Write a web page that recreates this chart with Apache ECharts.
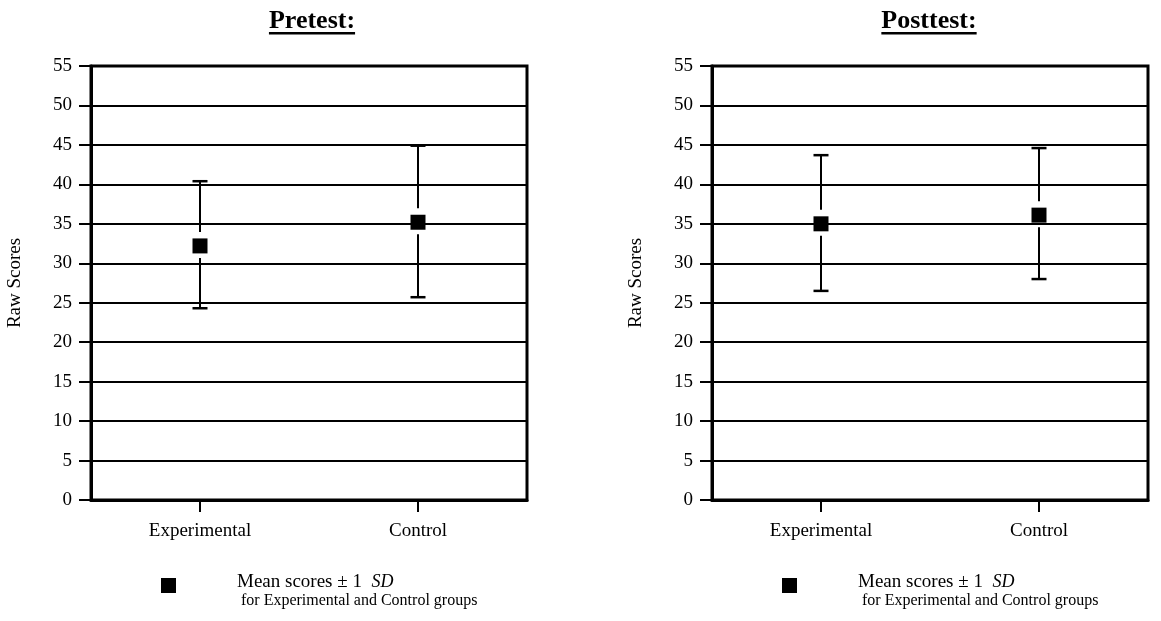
<!DOCTYPE html>
<html>
<head>
<meta charset="utf-8">
<script src="https://cdn.jsdelivr.net/npm/echarts@6/dist/echarts.min.js"></script>
<style>
  html, body { margin: 0; padding: 0; background: #fff; }
  #chart { width: 1161px; height: 621px; }
</style>
</head>
<body>
<div id="chart"></div>
<script>
// Group means with ±1 SD bounds, pretest and posttest
const categories = ['Experimental', 'Control'];
const preMean = [32.2, 35.2];
const preLow = [24.3, 25.7];
const preHigh = [40.4, 44.9];
const postMean = [35.0, 36.1];
const postLow = [26.5, 28.0];
const postHigh = [43.7, 44.6];
const panelTitles = ['Pretest:', 'Posttest:'];
const yMin = 0, yMax = 55, yStep = 5;
const yName = 'Raw Scores';
const seriesName = 'Mean scores';

const FONT = 'Liberation Serif, Times New Roman, serif';
const BLACK = '#000';

// panel layout (pixels)
const grids = [
  { left: 91, top: 66, width: 436, height: 434 },
  { left: 712, top: 66, width: 436, height: 434 }
];

function measure(text, font) {
  const c = document.createElement('canvas').getContext('2d');
  c.font = font;
  return c.measureText(text).width;
}

function errorBar(params, api) {
  const i = api.value(0);
  const lo = api.coord([i, api.value(1)]);
  const hi = api.coord([i, api.value(2)]);
  const mid = api.coord([i, api.value(3)]);
  const x = mid[0];
  const cap = 7.5;
  const style = { stroke: BLACK, lineWidth: 2 };
  return {
    type: 'group',
    children: [
      { type: 'line', shape: { x1: x, y1: hi[1], x2: x, y2: mid[1] - 14 }, style },
      { type: 'line', shape: { x1: x, y1: mid[1] + 12, x2: x, y2: lo[1] }, style },
      { type: 'line', shape: { x1: x - cap, y1: hi[1], x2: x + cap, y2: hi[1] }, style: { stroke: BLACK, lineWidth: 2.5 } },
      { type: 'line', shape: { x1: x - cap, y1: lo[1], x2: x + cap, y2: lo[1] }, style: { stroke: BLACK, lineWidth: 2.5 } }
    ]
  };
}

const panels = [
  { mean: preMean, low: preLow, high: preHigh },
  { mean: postMean, low: postLow, high: postHigh }
];

const option = {
  animation: false,
  backgroundColor: '#fff',
  grid: grids.map(g => Object.assign({ show: true, borderColor: BLACK, borderWidth: 3, backgroundColor: 'transparent' }, g)),
  xAxis: grids.map((g, k) => ({
    type: 'category',
    gridIndex: k,
    data: categories,
    boundaryGap: true,
    axisLine: { show: true, lineStyle: { color: BLACK, width: 3 } },
    axisTick: { show: true, alignWithLabel: true, length: 12, lineStyle: { color: BLACK, width: 2 } },
    axisLabel: { color: BLACK, fontFamily: FONT, fontSize: 19, margin: 22 },
    splitLine: { show: false }
  })),
  yAxis: grids.map((g, k) => ({
    type: 'value',
    gridIndex: k,
    min: yMin, max: yMax, interval: yStep,
    name: yName,
    nameLocation: 'middle',
    nameGap: 66,
    nameRotate: 90,
    nameTextStyle: { color: BLACK, fontFamily: FONT, fontSize: 19 },
    axisLine: { show: true, lineStyle: { color: BLACK, width: 3 } },
    axisTick: { show: true, length: 12, lineStyle: { color: BLACK, width: 2 } },
    axisLabel: { color: BLACK, fontFamily: FONT, fontSize: 19, margin: 19 },
    splitLine: { show: true, lineStyle: { color: BLACK, width: 2 } }
  })),
  legend: grids.map((g, k) => ({
    data: [seriesName],
    left: g.left + 65,
    top: 556,
    icon: 'rect',
    itemWidth: 15,
    itemHeight: 15,
    selectedMode: false,
    formatter: () => '{m|Mean scores \u00b1 1  }{i|SD}\n{f| for Experimental and Control groups}',
    textStyle: {
      color: BLACK, fontFamily: FONT, fontSize: 16, lineHeight: 18,
      padding: [12, 0, 0, 56],
      rich: {
        m: { color: BLACK, fontFamily: FONT, fontSize: 19, lineHeight: 19 },
        i: { color: BLACK, fontFamily: FONT, fontSize: 18, lineHeight: 19, fontStyle: 'italic' },
        f: { color: BLACK, fontFamily: FONT, fontSize: 16, lineHeight: 18 }
      }
    }
  })),
  graphic: [],
  series: []
};

panels.forEach((p, k) => {
  option.series.push({
    type: 'custom',
    xAxisIndex: k, yAxisIndex: k,
    renderItem: errorBar,
    encode: { x: 0, y: [1, 2] },
    data: categories.map((c, i) => [i, p.low[i], p.high[i], p.mean[i]]),
    z: 3
  });
  option.series.push({
    type: 'scatter',
    name: seriesName,
    xAxisIndex: k, yAxisIndex: k,
    symbol: 'rect',
    symbolSize: 15,
    itemStyle: { color: BLACK, opacity: 1 },
    data: categories.map((c, i) => [i, p.mean[i]]),
    z: 4
  });

  // panel heading, bold and underlined
  const g = grids[k];
  const cx = g.left + g.width / 2 + (k === 0 ? 3 : -1);
  const titleFont = 'bold 26px ' + FONT;
  const w = measure(panelTitles[k], titleFont);
  option.graphic.push({
    type: 'text',
    x: cx, y: 21,
    style: {
      text: panelTitles[k], fill: BLACK,
      font: titleFont, align: 'center', verticalAlign: 'middle'
    }
  });
  option.graphic.push({
    type: 'rect',
    shape: { x: cx - w / 2, y: 32, width: w, height: 2.5 },
    style: { fill: BLACK }
  });
});

const chart = echarts.init(document.getElementById('chart'), null, { renderer: 'canvas' });
chart.setOption(option);
</script>
</body>
</html>
